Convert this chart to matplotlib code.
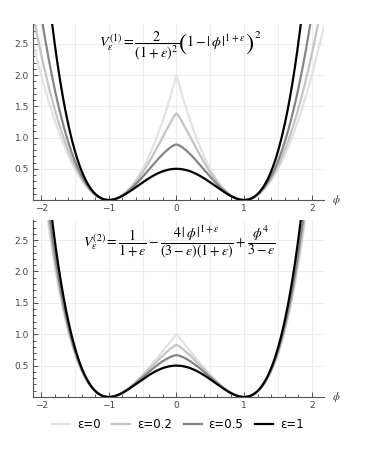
import numpy as np
import matplotlib as mpl
import matplotlib.pyplot as plt
from matplotlib.ticker import MultipleLocator

mpl.use('Agg')
plt.rcParams['mathtext.fontset'] = 'stix'

# curve parameters and styles
eps_vals = [0, 0.2, 0.5, 1]
eps_labels = ['ε=0', 'ε=0.2', 'ε=0.5', 'ε=1']
colors = ['#e2e2e2', '#c4c4c4', '#858585', '#000000']

x_ticks = [-2, -1, 0, 1, 2]
x_ticklabels = ['\u22122', '\u22121', '0', '1', '2']
y_ticks = [0.5, 1.0, 1.5, 2.0, 2.5]
y_ticklabels = ['0.5', '1.0', '1.5', '2.0', '2.5']

phi = np.linspace(-2.2, 2.2, 2001)

W, H = 373, 449


def V1(p, e):
    return 2 / (1 + e)**2 * (1 - np.abs(p)**(1 + e))**2


def V2(p, e):
    return 1 / (1 + e) - 4 * np.abs(p)**(1 + e) / ((3 - e) * (1 + e)) + p**4 / (3 - e)


fig = plt.figure(figsize=(W / 100, H / 100), dpi=100)
ax1 = fig.add_axes([33/W, 1 - 200/H, 291/W, 176/H])
ax2 = fig.add_axes([33/W, 1 - 397/H, 291/W, 177/H])

for ax, f in [(ax1, V1), (ax2, V2)]:
    for e, c, lab in zip(eps_vals, colors, eps_labels):
        ax.plot(phi, f(phi, e), color=c, lw=1.6, label=lab)
    ax.set_xlim(-2.12, 2.18)
    ax.set_ylim(0, 2.82)
    ax.set_xticks(x_ticks)
    ax.set_xticklabels(x_ticklabels)
    ax.set_yticks(y_ticks)
    ax.set_yticklabels(y_ticklabels)
    ax.xaxis.set_minor_locator(MultipleLocator(0.2))
    ax.yaxis.set_minor_locator(MultipleLocator(0.1))
    ax.tick_params(which='both', direction='in', colors='#555555', labelsize=6.5,
                   labelcolor='#444444', width=0.7)
    ax.tick_params(which='major', length=3.5, pad=3)
    ax.tick_params(which='minor', length=2)
    for s in ['top', 'right']:
        ax.spines[s].set_visible(False)
    for s in ['left', 'bottom']:
        ax.spines[s].set_color('#555555')
        ax.spines[s].set_linewidth(0.8)
    for gx in np.arange(-2, 2.01, 0.5):
        ax.axvline(gx, color='#ececec', lw=0.8, zorder=0)
    for gy in y_ticks:
        ax.axhline(gy, color='#ececec', lw=0.8, zorder=0)
    ax.annotate(r'$\phi$', xy=(1, 0), xycoords='axes fraction', xytext=(6, 0),
                textcoords='offset points', ha='left', va='center', fontsize=8,
                color='#333333')

# top formula, built from pieces so the parentheses can be tall
renderer = fig.canvas.get_renderer()
fs = 10.2
base = 47  # baseline, pixels from top
axis_y = base - 3.5
x = 99
pieces = [
    (r'$V_{\varepsilon}^{(1)} = \dfrac{2}{(1+\varepsilon)^2}$', fs, 'baseline', base, -1.0),
    (r'$($', 17.5, 'center', axis_y, -1.5),
    (r'$1-|\,\phi\,|^{1+\varepsilon}$', fs, 'baseline', base, -1.0),
    (r'$)$', 17.5, 'center', axis_y, 0.0),
]
top_y = None
for txt, size, va, ypx, gap in pieces:
    t = fig.text(x / W, 1 - ypx / H, txt, fontsize=size, va=va, ha='left')
    bb = t.get_window_extent(renderer)
    x = bb.x1 + gap
    top_y = bb.y1
fig.text(x / W, top_y / H + 0.004, r'$2$', fontsize=8, va='top', ha='left')

fig.text(83/W, 1 - 247/H,
         r'$V_{\varepsilon}^{(2)} = \dfrac{1}{1+\varepsilon} - \dfrac{4\,|\,\phi\,|^{1+\varepsilon}}{(3-\varepsilon)(1+\varepsilon)} + \dfrac{\phi^4}{3-\varepsilon}$',
         ha='left', va='baseline', fontsize=10)

handles, labels = ax1.get_legend_handles_labels()
fig.legend(handles, labels, loc='center', bbox_to_anchor=(178/W, 1 - 425/H),
           ncol=4, frameon=False, fontsize=8.5, handlelength=1.5,
           columnspacing=1.0, handletextpad=0.6)

fig.savefig('out.png', dpi=100)
